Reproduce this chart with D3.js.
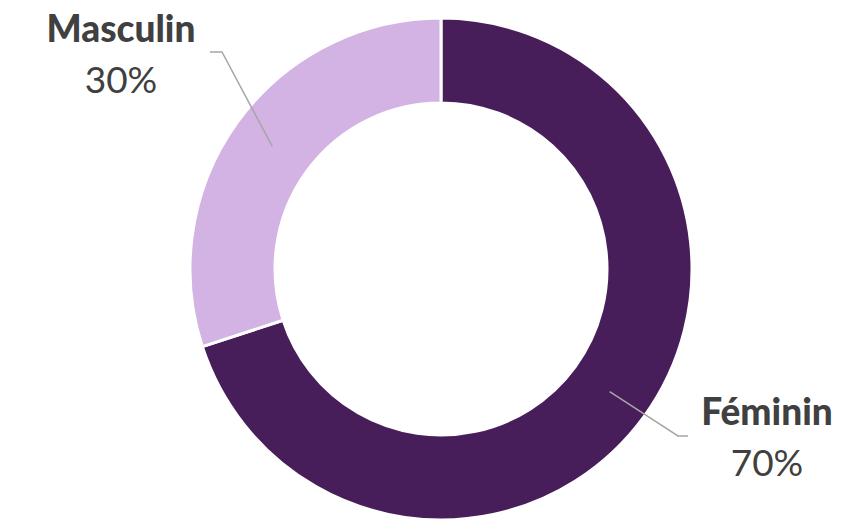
<!DOCTYPE html>
<html><head><meta charset="utf-8">
<script src="https://cdn.jsdelivr.net/npm/d3@7"></script>
<style>html,body{margin:0;padding:0;background:#fff;}svg{display:block;}</style>
</head><body>
<svg id="chart" width="858" height="520"></svg>
<script>
const categories = ["Féminin", "Masculin"];
const values = [70, 30];
const colors = ["#481e5a", "#d3b3e3"];

const svg = d3.select("#chart");
const cx = 441, cy = 269, rOuter = 251, rInner = 166;
const g = svg.append("g").attr("transform", `translate(${cx},${cy})`);

const pie = d3.pie().sort(null).value(d => d.value);
const data = pie(categories.map((c, i) => ({name: c, value: values[i], color: colors[i]})));
const arc = d3.arc().innerRadius(rInner).outerRadius(rOuter);

g.selectAll("path.slice").data(data).join("path")
  .attr("class", "slice")
  .attr("d", arc)
  .attr("fill", d => d.data.color)
  .attr("stroke", "#fff").attr("stroke-width", 3);

const layout = {
  "Féminin": {elbow: [678, 436], end: [688, 436], tx: 767, ty1: 425, ty2: 476},
  "Masculin": {elbow: [222, 52], end: [210, 52], tx: 121, ty1: 42, ty2: 93}
};
data.forEach(d => {
  const L = layout[d.data.name];
  const c = arc.centroid(d);
  const p0 = [c[0] + cx, c[1] + cy];
  svg.append("polyline")
    .attr("points", [p0, L.elbow, L.end].map(p => p.join(",")).join(" "))
    .attr("fill", "none").attr("stroke", "#a6a6a6").attr("stroke-width", 1.5);
  svg.append("text").attr("x", L.tx).attr("y", L.ty1)
    .attr("text-anchor", "middle")
    .attr("font-family", "Lato, 'Open Sans', sans-serif")
    .attr("font-weight", "900").attr("font-size", 37)
    .attr("fill", "#404040").text(d.data.name);
  svg.append("text").attr("x", L.tx).attr("y", L.ty2)
    .attr("text-anchor", "middle")
    .attr("font-family", "Lato, 'Open Sans', sans-serif")
    .attr("font-size", 37)
    .attr("fill", "#404040").text(d3.format(".0%")(d.data.value / d3.sum(values)));
});
</script>
</body></html>
